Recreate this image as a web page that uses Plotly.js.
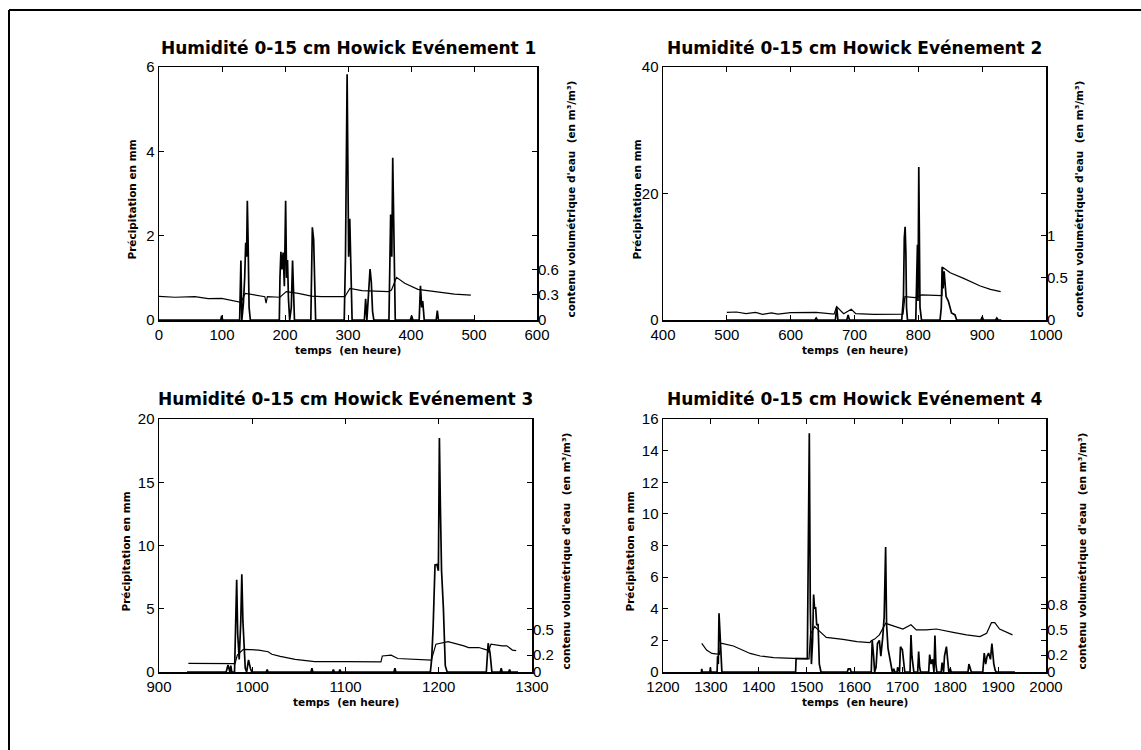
<!DOCTYPE html>
<html>
<head>
<meta charset="utf-8">
<script src="https://cdn.plot.ly/plotly-3.0.1.min.js"></script>
<style>html,body{margin:0;padding:0;background:#fff;}#chart{width:1141px;height:750px;}</style>
</head>
<body>
<div id="chart"></div>
<script>
// ---------- DATA (time in hours, rain in mm, moisture in m3/m3) ----------
const panelTitles = [
  "Humidité 0-15 cm Howick Evénement 1",
  "Humidité 0-15 cm Howick Evénement 2",
  "Humidité 0-15 cm Howick Evénement 3",
  "Humidité 0-15 cm Howick Evénement 4"
];
const xTitle = "temps  (en heure)";
const yLeftTitle = "Précipitation en mm";
const yRightTitle = "contenu volumétrique d'eau  (en m³/m³)";

const xRanges = [[0,600],[400,1000],[900,1300],[1200,2000]];
const yLeftRanges = [[0,6],[0,40],[0,20],[0,16]];
const yLeftDticks = [2,20,5,2];
const yRightRange = [0,3];
const yRightTicks = [[0,0.3,0.6],[0,0.5,1],[0,0.2,0.5],[0,0.2,0.5,0.8]];

// Event 1
const rain1 = [[0,0],[98,0],[99.5,0.1],[101,0],[128,0],[130,1.41],[131.5,0],[134,0.4],[136,1.0],[137.6,1.83],[139,1.5],[140.2,2.83],[141.3,1.98],[143,0.3],[145,0],
  [191,0],[192,1.0],[193.5,1.62],[195,1.2],[197,1.6],[199,0.8],[201,2.83],[202.5,1.0],[204,1.42],[205.5,0.5],[207.4,0],[210,0.3],[212,1.41],[213.5,0.7],[215,0],
  [241,0],[243.4,2.2],[245.5,1.9],[248.6,0],
  [294,0],[296,1.5],[298.6,5.83],[300,3.0],[301,1.5],[302.8,2.4],[304.5,1.0],[306.5,0],
  [326,0],[328,0.5],[330,0],[333,0.8],[335,1.21],[337,0.9],[339,0.2],[341,0],
  [365,0],[367.7,2.5],[369.5,1.5],[371,3.85],[372.5,2.6],[375,0],
  [399,0],[401,0.1],[403,0],[413,0],[415,0.81],[417,0.3],[418.6,0.45],[421,0],
  [440,0],[441.8,0.22],[443.5,0],[500,0]];
const moist1 = [[0,0.28],[25,0.27],[57,0.276],[78,0.253],[99.5,0.257],[126,0.21],[130,0.21],[137,0.316],[147,0.304],[168,0.276],[170,0.2],[172,0.276],
  [192,0.27],[202,0.336],[221,0.316],[242,0.284],[258,0.276],[295,0.276],[303,0.375],[322,0.348],[364,0.336],[369,0.356],[377,0.506],
  [390,0.435],[411,0.364],[443,0.336],[469,0.308],[495,0.296]];

// Event 2
const rain2 = [[500,0],[638,0],[640,0.3],[642,0],[670,0],[672.2,2.1],[674,0],[688,0],[690,0.8],[692,0],
  [774,0],[776.7,3.7],[778,12.9],[779.3,14.75],[780.5,10.6],[781.5,2],[783,0],
  [796,0],[798.6,11.9],[799.5,3],[800.7,24.2],[802.6,2],[805,0],
  [834,0],[836,2],[837.3,8.4],[838.8,5],[840.4,7.7],[843.5,3.7],[847,3],[852,1.1],[857.5,0.8],[860,0],
  [898,0],[900,0.5],[902,0],[921,0],[923,0.3],[925,0],[930,0]];
const moist2 = [[500,0.09],[515,0.095],[530,0.075],[545,0.09],[556,0.067],[570,0.085],[580,0.07],[600,0.088],[640,0.09],[662,0.079],[668,0.07],
  [672,0.16],[678,0.12],[683,0.075],[695,0.127],[702,0.075],[730,0.067],[773,0.07],[776,0.07],[779,0.276],[795,0.265],[805,0.297],
  [834,0.29],[837,0.29],[838,0.625],[850,0.56],[871,0.494],[897,0.403],[913,0.364],[929,0.336]];

// Event 3
const rain3 = [[930,0],[972,0],[974,0.55],[976,0],[977,0.5],[978,0],[981,0],[982.6,4.24],[983.3,7.3],[984.4,3.0],[986,1.0],[987.7,4.0],[988.8,7.72],[990,4.0],[991.4,1.5],[992.5,0.3],[994,0],
  [996,0.95],[998,0.3],[999.5,0],[1015,0],[1016,0.2],[1017,0],[1063,0],[1064,0.3],[1065,0],[1086,0],[1087,0.2],[1088,0],[1093,0],[1094,0.2],[1095,0],[1152,0],[1153,0.3],[1154,0],
  [1191,0],[1192.4,1.0],[1194,3.6],[1196,8.46],[1198,8.5],[1199.6,8.0],[1200.7,18.5],[1201.7,13.3],[1203,8.0],[1205,5.0],[1207,0.5],[1209,0],
  [1251,0],[1253,2.27],[1255,1.5],[1257,0],[1266,0],[1267,0.3],[1268,0],[1275,0],[1276,0.2],[1277,0],[1285,0]];
const moist3 = [[931.5,0.103],[960,0.1],[981.5,0.099],[984,0.2],[990.4,0.269],[1007,0.26],[1017,0.24],[1021,0.21],[1030,0.185],[1046,0.15],[1067,0.122],
  [1100,0.122],[1125,0.122],[1138,0.12],[1139.5,0.19],[1149,0.2],[1156,0.16],[1183,0.142],[1192,0.14],[1197,0.33],[1210,0.36],[1227,0.31],
  [1232,0.29],[1243,0.29],[1252,0.26],[1253,0.23],[1256,0.33],[1268,0.31],[1273,0.31],[1279,0.26],[1283,0.253]];

// Event 4
const rain4 = [[1280,0],[1281,0.2],[1282,0],[1298,0],[1299,0.3],[1300,0],[1313,0],[1314,1.0],[1315.5,0.5],[1317,3.71],[1319,2.5],[1321,0.5],[1323,0],
  [1477,0],[1478,0.85],[1501.5,0.85],[1503.5,9.6],[1505.6,15.1],[1507.7,4.0],[1510,0.5],[1512.5,2.0],[1514.6,4.9],[1516.7,4.0],[1518.8,4.1],[1521,3.0],[1524,3.0],[1526.5,0.5],[1530,0],
  [1585,0],[1587,0.2],[1591,0.2],[1593,0],
  [1635,0],[1637,2.0],[1640,1.0],[1642,0],[1645,0.3],[1648,1.8],[1652,2.0],[1655,1.0],[1659,2.2],[1662,3.5],[1665,7.9],[1667,3.0],[1670,1.5],[1672,1.2],[1676,0.5],[1679,0],[1682,0.2],[1684,0],
  [1689,0],[1690,0.3],[1694,0],[1696,1.6],[1700,1.4],[1703,0.3],[1705,0],[1716,0],[1718,2.34],[1720,1.0],[1722,0.3],[1724,0],[1732,0],[1734,1.3],[1736,0.3],[1738,0],
  [1755,0],[1757,1.1],[1760,0.5],[1763,0.8],[1766,0],[1768,2.3],[1770,0.5],[1772,0],[1781,0],[1783,0.6],[1786,0],[1788,1.0],[1792,1.6],[1795,0.5],[1797,0],[1800,0.2],[1802,0],
  [1837,0],[1839,0.5],[1842,0.2],[1844,0],[1868,0],[1871,1.2],[1874,0.5],[1877,1.0],[1880,1.2],[1884,0.8],[1887,1.8],[1891,0.5],[1894,0.1],[1896,0],[1935,0]];
const moist4 = [[1281,0.34],[1291,0.26],[1302,0.22],[1316,0.21],[1318,0.21],[1320,0.34],[1323,0.34],[1347,0.308],[1382,0.22],[1403,0.19],[1431,0.17],[1472,0.162],
  [1505,0.155],[1508,0.45],[1517,0.54],[1524,0.5],[1541,0.41],[1576,0.387],[1605,0.36],[1632,0.348],[1635,0.37],[1642,0.39],[1652,0.44],[1665,0.577],[1680,0.55],
  [1701,0.51],[1718,0.56],[1729,0.5],[1750,0.5],[1771,0.51],[1806,0.47],[1834,0.44],[1862,0.42],[1876,0.46],[1886,0.585],[1893,0.585],[1903,0.51],[1930,0.44]];

const rainSets = [rain1, rain2, rain3, rain4];
const moistSets = [moist1, moist2, moist3, moist4];

// ---------- LAYOUT (pixel geometry) ----------
const W = 1141, H = 750;
const boxes = [ // [left, right, top, bottom] in px
  [159, 537, 67, 320],
  [663, 1046, 67, 320],
  [159, 532, 419, 672],
  [663, 1046, 419, 672]
];
const titleY = [48, 48, 399, 399];
const xTitleY = [350, 350, 702, 702];
const yLeftTitleX = [131, 636, 125, 629];
const yRightTitleX = [570, 1078, 565, 1081];

const px = v => v / W;
const py = v => 1 - v / H;
const tickFont = {family: "Liberation Sans, Arial, sans-serif", size: 15, color: "#000"};
const boldFont = {family: "DejaVu Sans, sans-serif", size: 10.5, color: "#000", weight: "bold"};

const traces = [];
const layout = {
  width: W, height: H,
  margin: {l: 0, r: 0, t: 0, b: 0},
  paper_bgcolor: "#fff", plot_bgcolor: "#fff",
  showlegend: false,
  annotations: [], shapes: []
};

for (let i = 0; i < 4; i++) {
  const n = i + 1;
  const b = boxes[i];
  const xa = "xaxis" + (n === 1 ? "" : n);
  const yl = "yaxis" + (n === 1 ? "" : n);
  const yr = "yaxis" + (n + 4);
  const xs = "x" + (n === 1 ? "" : n);
  const yls = "y" + (n === 1 ? "" : n);
  const yrs = "y" + (n + 4);

  const xr = xRanges[i];
  const xt = [];
  for (let v = xr[0]; v <= xr[1]; v += 100) xt.push(v);
  const ylr = yLeftRanges[i];
  const ylt = [];
  for (let v = ylr[0]; v <= ylr[1] + 1e-9; v += yLeftDticks[i]) ylt.push(v);

  layout[xa] = {
    domain: [px(b[0]), px(b[1])], range: xr, anchor: yls,
    tickvals: xt, ticks: "inside", ticklen: 5, tickwidth: 1, tickcolor: "#000",
    showline: true, linecolor: "#000", linewidth: 1.5, mirror: "ticks",
    showgrid: false, zeroline: false, tickfont: tickFont, fixedrange: true
  };
  layout[yl] = {
    domain: [py(b[3]), py(b[2])], range: ylr, anchor: xs,
    tickvals: ylt, ticks: "inside", ticklen: 5, tickwidth: 1, tickcolor: "#000",
    showline: true, linecolor: "#000", linewidth: 1.5, mirror: "ticks",
    showgrid: false, zeroline: false, tickfont: tickFont, fixedrange: true
  };
  layout[yr] = {
    overlaying: yls, side: "right", anchor: xs, range: yRightRange,
    tickvals: yRightTicks[i], ticktext: yRightTicks[i].map(v => String(v)),
    ticks: "inside", ticklen: 5, tickwidth: 1, tickcolor: "#000",
    showline: false, showgrid: false, zeroline: false, tickfont: tickFont, fixedrange: true
  };

  traces.push({
    x: rainSets[i].map(p => p[0]), y: rainSets[i].map(p => p[1]),
    xaxis: xs, yaxis: yls, type: "scatter", mode: "lines",
    line: {color: "#000", width: 1.7}, hoverinfo: "skip"
  });
  traces.push({
    x: moistSets[i].map(p => p[0]), y: moistSets[i].map(p => p[1]),
    xaxis: xs, yaxis: yrs, type: "scatter", mode: "lines",
    line: {color: "#000", width: 1.2}, hoverinfo: "skip"
  });

  const cx = (b[0] + b[1]) / 2;
  const cy = (b[2] + b[3]) / 2;
  layout.annotations.push({
    text: panelTitles[i], xref: "paper", yref: "paper", x: px(cx), y: py(titleY[i]),
    xanchor: "center", yanchor: "middle", showarrow: false,
    font: {family: "DejaVu Sans, sans-serif", size: 17, color: "#000", weight: "bold"}
  });
  layout.annotations.push({
    text: xTitle, xref: "paper", yref: "paper", x: px(cx), y: py(xTitleY[i]),
    xanchor: "center", yanchor: "middle", showarrow: false, font: boldFont
  });
  layout.annotations.push({
    text: yLeftTitle, xref: "paper", yref: "paper", x: px(yLeftTitleX[i]), y: py(cy + 6),
    xanchor: "center", yanchor: "middle", showarrow: false, textangle: -90, font: boldFont
  });
  layout.annotations.push({
    text: yRightTitle, xref: "paper", yref: "paper", x: px(yRightTitleX[i]), y: py(cy + 6),
    xanchor: "center", yanchor: "middle", showarrow: false, textangle: -90, font: boldFont
  });
}

// outer frame (top and left edges of the page border)
layout.shapes.push({type: "line", xref: "paper", yref: "paper", x0: px(9), x1: 1, y0: py(10), y1: py(10), line: {color: "#000", width: 2}});
layout.shapes.push({type: "line", xref: "paper", yref: "paper", x0: px(9), x1: px(9), y0: py(10), y1: 0, line: {color: "#000", width: 2}});

Plotly.newPlot("chart", traces, layout, {staticPlot: true, displayModeBar: false});
</script>
</body>
</html>
